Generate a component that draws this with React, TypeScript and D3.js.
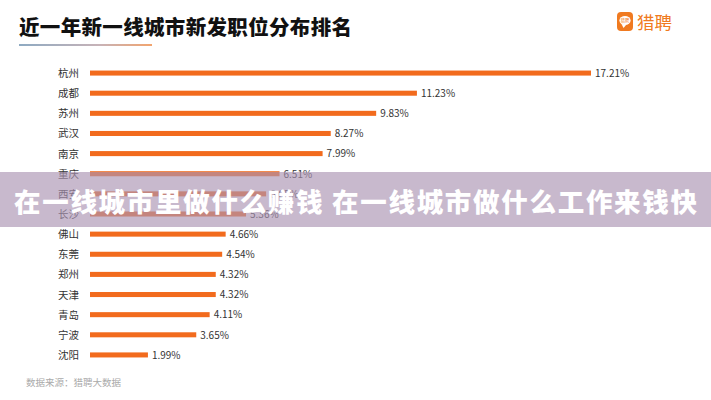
import React from "react";
import * as d3 from "d3";

const cities = ["杭州", "成都", "苏州", "武汉", "南京", "重庆", "西安", "长沙", "佛山", "东莞", "郑州", "天津", "青岛", "宁波", "沈阳"];
const shares = [17.21, 11.23, 9.83, 8.27, 7.99, 6.51, 6.05, 5.36, 4.66, 4.54, 4.32, 4.32, 4.11, 3.65, 1.99];
const titleText = "近一年新一线城市新发职位分布排名";
const bannerText = "在一线城市里做什么赚钱 在一线城市做什么工作来钱快";
const sourceText = "数据来源：猎聘大数据";
const brandText = "猎聘";

const W = 711;
const H = 400;
const FONT = "'Noto Sans CJK SC', 'Noto Sans', sans-serif";

export default function App() {
  const x = d3.scaleLinear().domain([0, 17.21]).range([90, 591]);
  const y = d3.scaleBand<string>().domain(cities).range([63, 365]).paddingInner(0.75).paddingOuter(0.375);
  const bh = y.bandwidth();
  return (
    <svg width={W} height={H} style={{ position: "absolute", left: 0, top: 0, background: "#fff" }} fontFamily={FONT}>
      <defs>
        <linearGradient id="ul" x1="0" x2="1" y1="0" y2="0">
          <stop offset="0" stopColor="#8eaac2" />
          <stop offset="0.6" stopColor="#c7b3b8" />
          <stop offset="1" stopColor="#f2a46e" />
        </linearGradient>
      </defs>
      <rect x={0} y={0} width={W} height={H} fill="#fff" />
      <text x={19} y={35} fontSize={20.5} fontWeight={900} fill="#111" textLength={333} lengthAdjust="spacing">{titleText}</text>
      <rect x={19} y={44} width={133} height={2} fill="url(#ul)" />
      {/* logo */}
      <rect x={617} y={12} width={16} height={19} rx={4} fill="#f07a20" />
      <ellipse cx={625} cy={20.5} rx={5.6} ry={4.6} fill="#fff" />
      <path d="M621.5,24 L623.5,28 L626.5,24.5 Z" fill="#fff" />
      <text x={625} y={22.2} fontSize={4.2} fill="#f07a20" textAnchor="middle">猎聘</text>
      <text x={637} y={29} fontSize={17.5} fill="#f07a20">{brandText}</text>
      {/* bars */}
      {cities.map((c, i) => {
        const cy = (y(c) as number) + bh / 2;
        return (
          <g key={c}>
            <text x={79} y={cy + 4} fontSize={10.5} fill="#333" textAnchor="end">{c}</text>
            <rect x={x(0)} y={y(c)} width={x(shares[i]) - x(0)} height={bh} fill="#f26b1d" />
            <text x={x(shares[i]) + 4} y={cy + 3.8} fontSize={10} fill="#333">{shares[i].toFixed(2) + "%"}</text>
          </g>
        );
      })}
      <text x={26} y={386} fontSize={9.5} fill="#aaa">{sourceText}</text>
      {/* banner overlay */}
      <rect x={0} y={172} width={W} height={55} fill="rgb(171,148,178)" fillOpacity={0.65} />
      <text x={355.5} y={211.5} fontSize={26.5} fontWeight={900} fill="#fff" textAnchor="middle" textLength={683} lengthAdjust="spacing">{bannerText}</text>
    </svg>
  );
}
